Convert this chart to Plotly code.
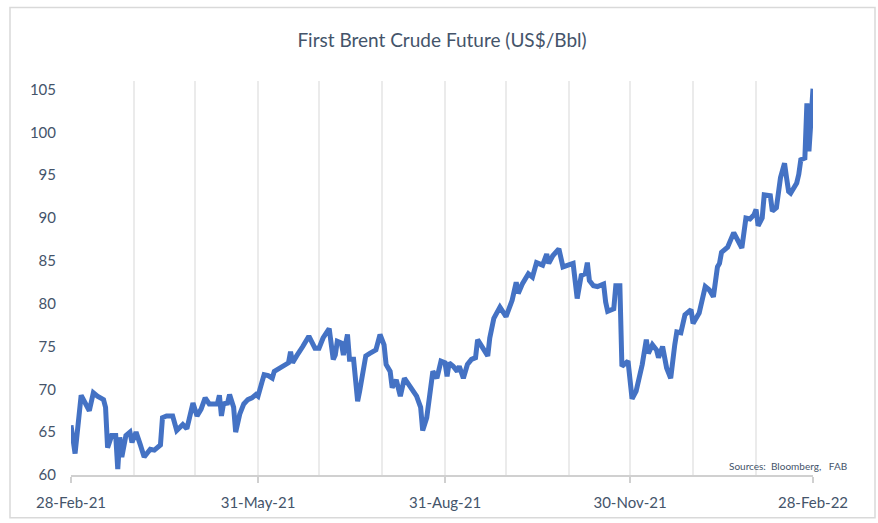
import plotly.graph_objects as go

dates = [
    "2021-02-28", "2021-03-02", "2021-03-05", "2021-03-09", "2021-03-11", "2021-03-13",
    "2021-03-16", "2021-03-17", "2021-03-18", "2021-03-20", "2021-03-22", "2021-03-23",
    "2021-03-24", "2021-03-25", "2021-03-27", "2021-03-29", "2021-03-30", "2021-04-01",
    "2021-04-03", "2021-04-05", "2021-04-08", "2021-04-10", "2021-04-13", "2021-04-14",
    "2021-04-16", "2021-04-19", "2021-04-21", "2021-04-23", "2021-04-24", "2021-04-26",
    "2021-04-27", "2021-04-29", "2021-05-01", "2021-05-03", "2021-05-05", "2021-05-07",
    "2021-05-11", "2021-05-12", "2021-05-13", "2021-05-14", "2021-05-16", "2021-05-17",
    "2021-05-19", "2021-05-20", "2021-05-22", "2021-05-24", "2021-05-26", "2021-05-28",
    "2021-05-30", "2021-05-31", "2021-06-02", "2021-06-03", "2021-06-05", "2021-06-07",
    "2021-06-08", "2021-06-11", "2021-06-13", "2021-06-15", "2021-06-16", "2021-06-17",
    "2021-06-19", "2021-06-21", "2021-06-22", "2021-06-25", "2021-06-28", "2021-06-30",
    "2021-07-02", "2021-07-05", "2021-07-07", "2021-07-08", "2021-07-09", "2021-07-11",
    "2021-07-12", "2021-07-14", "2021-07-15", "2021-07-17", "2021-07-19", "2021-07-20",
    "2021-07-23", "2021-07-25", "2021-07-28", "2021-07-30", "2021-08-01", "2021-08-02",
    "2021-08-04", "2021-08-05", "2021-08-07", "2021-08-09", "2021-08-11", "2021-08-13",
    "2021-08-15", "2021-08-17", "2021-08-19", "2021-08-20", "2021-08-22", "2021-08-24",
    "2021-08-25", "2021-08-27", "2021-08-29", "2021-08-31", "2021-09-01", "2021-09-02",
    "2021-09-04", "2021-09-06", "2021-09-07", "2021-09-09", "2021-09-11", "2021-09-13",
    "2021-09-15", "2021-09-16", "2021-09-18", "2021-09-21", "2021-09-22", "2021-09-24",
    "2021-09-27", "2021-09-30", "2021-10-03", "2021-10-05", "2021-10-06", "2021-10-08",
    "2021-10-11", "2021-10-13", "2021-10-15", "2021-10-18", "2021-10-20", "2021-10-21",
    "2021-10-23", "2021-10-26", "2021-10-28", "2021-10-31", "2021-11-02", "2021-11-04",
    "2021-11-06", "2021-11-08", "2021-11-09", "2021-11-10", "2021-11-12", "2021-11-14",
    "2021-11-17", "2021-11-18", "2021-11-19", "2021-11-22", "2021-11-23", "2021-11-25",
    "2021-11-26", "2021-11-29", "2021-12-01", "2021-12-03", "2021-12-06", "2021-12-08",
    "2021-12-09", "2021-12-11", "2021-12-13", "2021-12-14", "2021-12-16", "2021-12-18",
    "2021-12-20", "2021-12-22", "2021-12-23", "2021-12-25", "2021-12-27", "2021-12-30",
    "2021-12-31", "2022-01-03", "2022-01-06", "2022-01-08", "2022-01-10", "2022-01-12",
    "2022-01-13", "2022-01-14", "2022-01-17", "2022-01-20", "2022-01-22", "2022-01-24",
    "2022-01-26", "2022-01-28", "2022-01-30", "2022-01-31", "2022-02-01", "2022-02-03",
    "2022-02-04", "2022-02-07", "2022-02-08", "2022-02-10", "2022-02-12", "2022-02-14",
    "2022-02-15", "2022-02-16", "2022-02-17", "2022-02-20", "2022-02-21", "2022-02-22",
    "2022-02-24", "2022-02-25", "2022-02-26", "2022-02-27", "2022-02-28",
]

brent = [
    65.8, 62.5, 69.3, 67.5, 69.6, 69.2,
    68.8, 67.9, 63.2, 64.6, 64.6, 60.7,
    64.4, 62.1, 64.6, 65.0, 63.8, 65.0,
    63.6, 62.1, 63.0, 62.9, 63.5, 66.7,
    66.9, 66.9, 65.2, 65.6, 65.9, 65.4,
    66.4, 68.4, 66.9, 67.7, 69.0, 68.3,
    68.3, 69.3, 66.9, 68.3, 68.4, 69.4,
    67.9, 65.0, 67.1, 68.3, 68.8, 69.0,
    69.4, 69.2, 70.9, 71.7, 71.6, 71.3,
    72.1, 72.5, 72.9, 73.1, 74.4, 73.1,
    73.9, 74.8, 75.0, 76.2, 74.8, 74.8,
    76.0, 77.1, 73.5, 74.0, 75.6, 75.4,
    74.0, 76.4, 73.5, 73.5, 68.6, 69.8,
    73.9, 74.2, 74.6, 76.4, 75.2, 72.9,
    72.1, 70.2, 71.1, 69.2, 71.3, 70.6,
    70.0, 69.2, 67.9, 65.2, 66.7, 70.2,
    72.1, 71.3, 73.3, 73.1, 71.5, 73.1,
    72.7, 72.1, 72.7, 71.3, 72.9, 73.5,
    73.7, 75.8, 75.0, 73.9, 76.0, 78.3,
    79.6, 78.5, 80.4, 82.5, 81.2, 82.3,
    83.5, 83.1, 84.8, 84.5, 85.8, 84.7,
    85.6, 86.4, 84.3, 84.5, 84.7, 80.6,
    83.3, 83.5, 84.8, 82.7, 82.1, 82.0,
    82.3, 80.2, 79.1, 79.4, 82.1, 82.1,
    72.7, 73.3, 68.9, 69.8, 72.9, 75.8,
    74.2, 75.2, 74.6, 73.7, 75.0, 72.5,
    71.3, 75.2, 76.7, 76.6, 78.7, 79.3,
    77.7, 78.9, 82.0, 81.6, 80.8, 84.3,
    84.7, 86.0, 86.6, 88.3, 87.5, 86.5,
    90.0, 89.9, 90.4, 91.0, 89.1, 90.0,
    92.7, 92.6, 90.8, 91.2, 94.7, 96.4,
    94.7, 93.1, 92.9, 94.1, 95.1, 96.8,
    97.0, 103.4, 97.8, 101.3, 105.1,
]

label_dates = ["2021-02-28", "2021-05-31", "2021-08-31", "2021-11-30", "2022-02-28"]
label_text = ["28-Feb-21", "31-May-21", "31-Aug-21", "30-Nov-21", "28-Feb-22"]
month_ends = [
    "2021-02-28", "2021-03-31", "2021-04-30", "2021-05-31", "2021-06-30", "2021-07-31",
    "2021-08-31", "2021-09-30", "2021-10-31", "2021-11-30", "2021-12-31", "2022-01-31",
    "2022-02-28",
]
y_ticks = [60, 65, 70, 75, 80, 85, 90, 95, 100, 105]

TEXT = "#44546a"
FONT = "Lato, 'Open Sans', sans-serif"

fig = go.Figure()
fig.add_trace(go.Scatter(
    x=dates, y=brent, mode="lines",
    line=dict(color="#4472c4", width=5),
    showlegend=False, hoverinfo="x+y",
))

fig.update_layout(
    width=878, height=523,
    margin=dict(l=71, r=65, t=81, b=45),
    paper_bgcolor="white", plot_bgcolor="white",
    font=dict(family=FONT, size=15, color=TEXT),
    title=dict(
        text="First Brent Crude Future (US$/Bbl)",
        x=(71 + 742 / 2) / 878, xanchor="center",
        y=1 - 40 / 523, yanchor="middle",
        font=dict(family=FONT, size=19, color=TEXT),
    ),
    xaxis=dict(
        type="date",
        range=["2021-02-28", "2022-02-28"],
        tickmode="array", tickvals=label_dates, ticktext=label_text,
        ticks="outside", ticklen=6, tickwidth=1.5, tickcolor="#d0d0d0",
        showgrid=True, gridcolor="#ebebeb", gridwidth=1.5,
        showline=True, linecolor="#d0d0d0", linewidth=1.5,
        ticklabelstandoff=7,
        tickfont=dict(size=15, color=TEXT),
        minor=dict(tickmode="array", tickvals=month_ends, showgrid=True,
                   gridcolor="#ebebeb", gridwidth=1.5, ticks=""),
        zeroline=False, fixedrange=True,
    ),
    yaxis=dict(
        range=[60, 106],
        tickmode="array", tickvals=y_ticks,
        showgrid=False, zeroline=False, showline=False,
        ticks="", ticklabelstandoff=14,
        tickfont=dict(size=15, color=TEXT),
        fixedrange=True,
    ),
    shapes=[dict(
        type="rect", xref="paper", yref="paper",
        x0=(10 - 71) / 742, x1=(875 - 71) / 742,
        y0=(478 - 521) / 397, y1=1 + (81 - 7) / 397,
        line=dict(color="#d9d9d9", width=1.5), fillcolor="rgba(0,0,0,0)",
        layer="below",
    )],
    annotations=[dict(
        text="Sources:  Bloomberg,   FAB",
        xref="paper", yref="paper",
        x=(849 - 71) / 742, y=(478 - 469) / 397,
        xanchor="right", yanchor="middle", showarrow=False,
        font=dict(family=FONT, size=10, color=TEXT),
    )],
)

fig.write_html(
    "out.html",
    config={"displayModeBar": False},
    post_script="document.body.style.margin='0';document.body.style.overflow='hidden';",
)
